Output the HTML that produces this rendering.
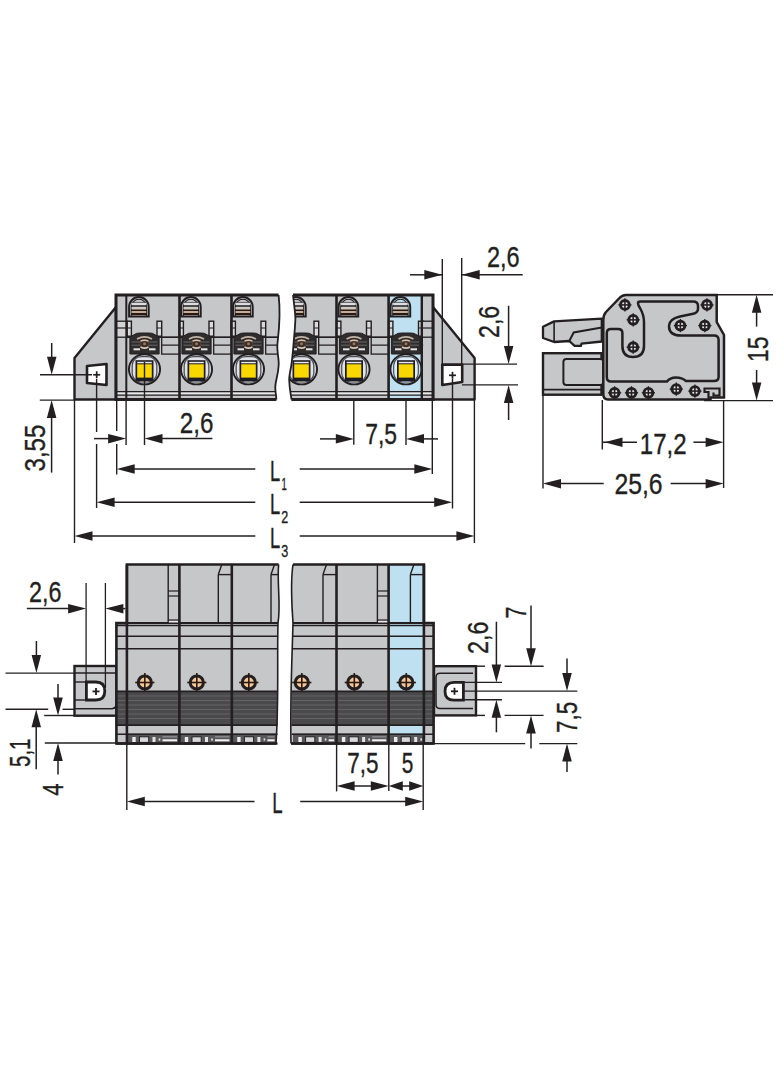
<!DOCTYPE html>
<html><head><meta charset="utf-8"><style>
html,body{margin:0;padding:0;background:#fff;}
svg{display:block;}
text{font-family:"Liberation Sans",sans-serif;fill:#231f20;stroke:#231f20;stroke-width:0.35px;}
</style></head><body>
<svg width="784" height="1066" viewBox="0 0 784 1066">
<rect width="784" height="1066" fill="#fff"/>
<polygon points="116,307 74.5,358 74.5,399.5 116,399.5" fill="#c6c7c9" stroke="#231f20" stroke-width="2.4" stroke-linejoin="round" />
<polygon points="433,307 474.6,358 474.6,399.5 433,399.5" fill="#c6c7c9" stroke="#231f20" stroke-width="2.4" stroke-linejoin="round" />
<polygon points="87,366 106.5,364 106.5,385 87,383" fill="#fff" stroke="#231f20" stroke-width="2.6" stroke-linejoin="round" />
<polygon points="442.3,364.6 462.2,364.6 462.2,382 442.3,385" fill="#fff" stroke="#231f20" stroke-width="2.6" stroke-linejoin="round" />
<defs><clipPath id="cpL"><path d="M116,295 L278.6,295 C281,315 279,330 277.5,343 C276.5,352 279.5,360 278.6,366 C278,376 275,382 275.3,388 C275.5,394 276.4,397 276.4,399.5 L116,399.5 Z"/></clipPath><clipPath id="cpR"><path d="M293,295 C294.5,308 296,318 295.3,321 C294.8,332 294,338 293.6,343 C293,352 292,360 291.4,365 C290,372 289,378 289.2,380 C289.5,386 290,390 290.5,393 C291,396 291.4,398 291.4,399.5 L433,399.5 L433,295 Z"/></clipPath></defs>
<path d="M116,295 L278.6,295 C281,315 279,330 277.5,343 C276.5,352 279.5,360 278.6,366 C278,376 275,382 275.3,388 C275.5,394 276.4,397 276.4,399.5 L116,399.5 Z" fill="#c6c7c9" stroke="#231f20" stroke-width="0" />
<path d="M293,295 C294.5,308 296,318 295.3,321 C294.8,332 294,338 293.6,343 C293,352 292,360 291.4,365 C290,372 289,378 289.2,380 C289.5,386 290,390 290.5,393 C291,396 291.4,398 291.4,399.5 L433,399.5 L433,295 Z" fill="#c6c7c9" stroke="#231f20" stroke-width="0" />
<rect x="388.6" y="295" width="33.2" height="104.5" fill="#bee0f0" stroke="none" stroke-width="0" />
<g clip-path="url(#cpL)">
<rect x="127.0" y="321.2" width="4.4" height="15" fill="#dadadc" stroke="#231f20" stroke-width="1.4" />
<line x1="127.0" y1="328" x2="131.4" y2="328" stroke="#231f20" stroke-width="1.2"/>
<rect x="157.0" y="321.2" width="4.7" height="15" fill="#dadadc" stroke="#231f20" stroke-width="1.4" />
<line x1="157.0" y1="328" x2="161.7" y2="328" stroke="#231f20" stroke-width="1.2"/>
<rect x="161.7" y="337.3" width="17.80000000000001" height="16.8" fill="#c6c7c9" stroke="#231f20" stroke-width="1.3" />
<line x1="161.7" y1="345.1" x2="179.5" y2="345.1" stroke="#231f20" stroke-width="1.2"/>
<path d="M129.1,316.5 L129.1,306.90000000000003 A9.799999999999997,9.799999999999997 0 0 1 148.7,306.90000000000003 L148.7,316.5 Z" fill="#c6c7c9" stroke="#231f20" stroke-width="2" />
<path d="M131.29999999999998,316.5 L131.29999999999998,306.90000000000003 A7.599999999999997,7.599999999999997 0 0 1 146.5,306.90000000000003 L146.5,316.5" fill="none" stroke="#231f20" stroke-width="1.1" />
<rect x="131.6" y="303" width="14.599999999999994" height="2.6" fill="#dcdcde" stroke="none" stroke-width="0" />
<rect x="131.6" y="306.8" width="14.599999999999994" height="3" fill="#cfc9c4" stroke="none" stroke-width="0" />
<rect x="131.6" y="311" width="14.599999999999994" height="2.4" fill="#c4ae9a" stroke="none" stroke-width="0" />
<line x1="131.1" y1="302.4" x2="146.7" y2="302.4" stroke="#555" stroke-width="0.9"/>
<line x1="131.1" y1="306" x2="146.7" y2="306" stroke="#231f20" stroke-width="1.4"/>
<line x1="131.1" y1="310.3" x2="146.7" y2="310.3" stroke="#2a1a10" stroke-width="1.5"/>
<line x1="131.1" y1="314" x2="146.7" y2="314" stroke="#2a1a10" stroke-width="1.8"/>
<line x1="126.3" y1="337.3" x2="179.5" y2="337.3" stroke="#231f20" stroke-width="1.4"/>
<path d="M129.9,354 L129.9,337 L133.5,335 Q136.5,332.6 140.5,333 L148.5,333 Q152.5,332.6 155.5,335 L159.1,337 L159.1,354 Z" fill="#2e2c2c" stroke="#231f20" stroke-width="1" />
<rect x="133.5" y="348.3" width="6.5" height="2" fill="#e4e4e4" stroke="none" stroke-width="0" />
<rect x="149.0" y="348.3" width="6.5" height="2" fill="#e4e4e4" stroke="none" stroke-width="0" />
<line x1="131.5" y1="342" x2="157.5" y2="342" stroke="#707072" stroke-width="0.9"/>
<line x1="131.5" y1="345.2" x2="157.5" y2="345.2" stroke="#707072" stroke-width="0.9"/>
<circle cx="144.5" cy="343.7" r="4.2" fill="#3a2e28" stroke="#5a4030" stroke-width="1.2"/>
<path d="M137.0,339 Q144.5,334.8 152.0,339" fill="none" stroke="#c4b4a4" stroke-width="1.6" />
<path d="M140.5,341.2 Q144.5,339.2 148.5,341.2" fill="none" stroke="#d4c4b4" stroke-width="1.4" />
<path d="M140.5,347 Q144.5,349.3 148.5,347" fill="none" stroke="#d4c4b4" stroke-width="1.6" />
<circle cx="144.5" cy="343.8" r="1.5" fill="#9a7458"/>
<ellipse cx="144.5" cy="369.3" rx="15.6" ry="15.1" fill="#cfd0d4" stroke="#231f20" stroke-width="1.9"/>
<rect x="132.2" y="356.6" width="24.6" height="25.4" rx="9" fill="#e0e2e8" stroke="#4a4d55" stroke-width="1.2"/>
<rect x="135.5" y="360.2" width="18" height="21" fill="#1e1c22" stroke="none" stroke-width="0" />
<rect x="137.2" y="364.3" width="14.6" height="13.3" fill="#f8d800" stroke="none" stroke-width="0" />
<rect x="137.2" y="361.8" width="14.6" height="1.5" fill="#e8e8e8" stroke="none" stroke-width="0" />
<rect x="179.0" y="321.2" width="4.4" height="15" fill="#dadadc" stroke="#231f20" stroke-width="1.4" />
<line x1="179.0" y1="328" x2="183.4" y2="328" stroke="#231f20" stroke-width="1.2"/>
<rect x="209.0" y="321.2" width="4.7" height="15" fill="#dadadc" stroke="#231f20" stroke-width="1.4" />
<line x1="209.0" y1="328" x2="213.7" y2="328" stroke="#231f20" stroke-width="1.2"/>
<rect x="213.7" y="337.3" width="17.80000000000001" height="16.8" fill="#c6c7c9" stroke="#231f20" stroke-width="1.3" />
<line x1="213.7" y1="345.1" x2="231.5" y2="345.1" stroke="#231f20" stroke-width="1.2"/>
<path d="M181.1,316.5 L181.1,306.90000000000003 A9.799999999999997,9.799999999999997 0 0 1 200.7,306.90000000000003 L200.7,316.5 Z" fill="#c6c7c9" stroke="#231f20" stroke-width="2" />
<path d="M183.29999999999998,316.5 L183.29999999999998,306.90000000000003 A7.599999999999997,7.599999999999997 0 0 1 198.5,306.90000000000003 L198.5,316.5" fill="none" stroke="#231f20" stroke-width="1.1" />
<rect x="183.6" y="303" width="14.599999999999994" height="2.6" fill="#dcdcde" stroke="none" stroke-width="0" />
<rect x="183.6" y="306.8" width="14.599999999999994" height="3" fill="#cfc9c4" stroke="none" stroke-width="0" />
<rect x="183.6" y="311" width="14.599999999999994" height="2.4" fill="#c4ae9a" stroke="none" stroke-width="0" />
<line x1="183.1" y1="302.4" x2="198.7" y2="302.4" stroke="#555" stroke-width="0.9"/>
<line x1="183.1" y1="306" x2="198.7" y2="306" stroke="#231f20" stroke-width="1.4"/>
<line x1="183.1" y1="310.3" x2="198.7" y2="310.3" stroke="#2a1a10" stroke-width="1.5"/>
<line x1="183.1" y1="314" x2="198.7" y2="314" stroke="#2a1a10" stroke-width="1.8"/>
<line x1="179.5" y1="337.3" x2="231.5" y2="337.3" stroke="#231f20" stroke-width="1.4"/>
<path d="M181.9,354 L181.9,337 L185.5,335 Q188.5,332.6 192.5,333 L200.5,333 Q204.5,332.6 207.5,335 L211.1,337 L211.1,354 Z" fill="#2e2c2c" stroke="#231f20" stroke-width="1" />
<rect x="185.5" y="348.3" width="6.5" height="2" fill="#e4e4e4" stroke="none" stroke-width="0" />
<rect x="201.0" y="348.3" width="6.5" height="2" fill="#e4e4e4" stroke="none" stroke-width="0" />
<line x1="183.5" y1="342" x2="209.5" y2="342" stroke="#707072" stroke-width="0.9"/>
<line x1="183.5" y1="345.2" x2="209.5" y2="345.2" stroke="#707072" stroke-width="0.9"/>
<circle cx="196.5" cy="343.7" r="4.2" fill="#3a2e28" stroke="#5a4030" stroke-width="1.2"/>
<path d="M189.0,339 Q196.5,334.8 204.0,339" fill="none" stroke="#c4b4a4" stroke-width="1.6" />
<path d="M192.5,341.2 Q196.5,339.2 200.5,341.2" fill="none" stroke="#d4c4b4" stroke-width="1.4" />
<path d="M192.5,347 Q196.5,349.3 200.5,347" fill="none" stroke="#d4c4b4" stroke-width="1.6" />
<circle cx="196.5" cy="343.8" r="1.5" fill="#9a7458"/>
<ellipse cx="196.5" cy="369.3" rx="15.6" ry="15.1" fill="#cfd0d4" stroke="#231f20" stroke-width="1.9"/>
<rect x="184.2" y="356.6" width="24.6" height="25.4" rx="9" fill="#e0e2e8" stroke="#4a4d55" stroke-width="1.2"/>
<rect x="187.5" y="360.2" width="18" height="21" fill="#1e1c22" stroke="none" stroke-width="0" />
<rect x="189.2" y="364.3" width="14.6" height="13.3" fill="#f8d800" stroke="none" stroke-width="0" />
<rect x="189.2" y="361.8" width="14.6" height="1.5" fill="#e8e8e8" stroke="none" stroke-width="0" />
<rect x="231.0" y="321.2" width="4.4" height="15" fill="#dadadc" stroke="#231f20" stroke-width="1.4" />
<line x1="231.0" y1="328" x2="235.4" y2="328" stroke="#231f20" stroke-width="1.2"/>
<rect x="261.0" y="321.2" width="4.7" height="15" fill="#dadadc" stroke="#231f20" stroke-width="1.4" />
<line x1="261.0" y1="328" x2="265.7" y2="328" stroke="#231f20" stroke-width="1.2"/>
<rect x="265.7" y="337.3" width="13.300000000000011" height="16.8" fill="#c6c7c9" stroke="#231f20" stroke-width="1.3" />
<line x1="265.7" y1="345.1" x2="279" y2="345.1" stroke="#231f20" stroke-width="1.2"/>
<path d="M233.1,316.5 L233.1,306.90000000000003 A9.799999999999997,9.799999999999997 0 0 1 252.7,306.90000000000003 L252.7,316.5 Z" fill="#c6c7c9" stroke="#231f20" stroke-width="2" />
<path d="M235.29999999999998,316.5 L235.29999999999998,306.90000000000003 A7.599999999999997,7.599999999999997 0 0 1 250.5,306.90000000000003 L250.5,316.5" fill="none" stroke="#231f20" stroke-width="1.1" />
<rect x="235.6" y="303" width="14.599999999999994" height="2.6" fill="#dcdcde" stroke="none" stroke-width="0" />
<rect x="235.6" y="306.8" width="14.599999999999994" height="3" fill="#cfc9c4" stroke="none" stroke-width="0" />
<rect x="235.6" y="311" width="14.599999999999994" height="2.4" fill="#c4ae9a" stroke="none" stroke-width="0" />
<line x1="235.1" y1="302.4" x2="250.7" y2="302.4" stroke="#555" stroke-width="0.9"/>
<line x1="235.1" y1="306" x2="250.7" y2="306" stroke="#231f20" stroke-width="1.4"/>
<line x1="235.1" y1="310.3" x2="250.7" y2="310.3" stroke="#2a1a10" stroke-width="1.5"/>
<line x1="235.1" y1="314" x2="250.7" y2="314" stroke="#2a1a10" stroke-width="1.8"/>
<line x1="231.5" y1="337.3" x2="279" y2="337.3" stroke="#231f20" stroke-width="1.4"/>
<path d="M233.9,354 L233.9,337 L237.5,335 Q240.5,332.6 244.5,333 L252.5,333 Q256.5,332.6 259.5,335 L263.1,337 L263.1,354 Z" fill="#2e2c2c" stroke="#231f20" stroke-width="1" />
<rect x="237.5" y="348.3" width="6.5" height="2" fill="#e4e4e4" stroke="none" stroke-width="0" />
<rect x="253.0" y="348.3" width="6.5" height="2" fill="#e4e4e4" stroke="none" stroke-width="0" />
<line x1="235.5" y1="342" x2="261.5" y2="342" stroke="#707072" stroke-width="0.9"/>
<line x1="235.5" y1="345.2" x2="261.5" y2="345.2" stroke="#707072" stroke-width="0.9"/>
<circle cx="248.5" cy="343.7" r="4.2" fill="#3a2e28" stroke="#5a4030" stroke-width="1.2"/>
<path d="M241.0,339 Q248.5,334.8 256.0,339" fill="none" stroke="#c4b4a4" stroke-width="1.6" />
<path d="M244.5,341.2 Q248.5,339.2 252.5,341.2" fill="none" stroke="#d4c4b4" stroke-width="1.4" />
<path d="M244.5,347 Q248.5,349.3 252.5,347" fill="none" stroke="#d4c4b4" stroke-width="1.6" />
<circle cx="248.5" cy="343.8" r="1.5" fill="#9a7458"/>
<ellipse cx="248.5" cy="369.3" rx="15.6" ry="15.1" fill="#cfd0d4" stroke="#231f20" stroke-width="1.9"/>
<rect x="236.2" y="356.6" width="24.6" height="25.4" rx="9" fill="#e0e2e8" stroke="#4a4d55" stroke-width="1.2"/>
<rect x="239.5" y="360.2" width="18" height="21" fill="#1e1c22" stroke="none" stroke-width="0" />
<rect x="241.2" y="364.3" width="14.6" height="13.3" fill="#f8d800" stroke="none" stroke-width="0" />
<rect x="241.2" y="361.8" width="14.6" height="1.5" fill="#e8e8e8" stroke="none" stroke-width="0" />
</g><g clip-path="url(#cpR)">
<rect x="284.0" y="321.2" width="4.4" height="15" fill="#dadadc" stroke="#231f20" stroke-width="1.4" />
<line x1="284.0" y1="328" x2="288.4" y2="328" stroke="#231f20" stroke-width="1.2"/>
<rect x="314.0" y="321.2" width="4.7" height="15" fill="#dadadc" stroke="#231f20" stroke-width="1.4" />
<line x1="314.0" y1="328" x2="318.7" y2="328" stroke="#231f20" stroke-width="1.2"/>
<rect x="318.7" y="337.3" width="17.80000000000001" height="16.8" fill="#c6c7c9" stroke="#231f20" stroke-width="1.3" />
<line x1="318.7" y1="345.1" x2="336.5" y2="345.1" stroke="#231f20" stroke-width="1.2"/>
<path d="M286.1,316.5 L286.1,306.9 A9.799999999999983,9.799999999999983 0 0 1 305.7,306.9 L305.7,316.5 Z" fill="#c6c7c9" stroke="#231f20" stroke-width="2" />
<path d="M288.3,316.5 L288.3,306.9 A7.599999999999983,7.599999999999983 0 0 1 303.5,306.9 L303.5,316.5" fill="none" stroke="#231f20" stroke-width="1.1" />
<rect x="288.6" y="303" width="14.599999999999966" height="2.6" fill="#dcdcde" stroke="none" stroke-width="0" />
<rect x="288.6" y="306.8" width="14.599999999999966" height="3" fill="#cfc9c4" stroke="none" stroke-width="0" />
<rect x="288.6" y="311" width="14.599999999999966" height="2.4" fill="#c4ae9a" stroke="none" stroke-width="0" />
<line x1="288.1" y1="302.4" x2="303.7" y2="302.4" stroke="#555" stroke-width="0.9"/>
<line x1="288.1" y1="306" x2="303.7" y2="306" stroke="#231f20" stroke-width="1.4"/>
<line x1="288.1" y1="310.3" x2="303.7" y2="310.3" stroke="#2a1a10" stroke-width="1.5"/>
<line x1="288.1" y1="314" x2="303.7" y2="314" stroke="#2a1a10" stroke-width="1.8"/>
<line x1="284.5" y1="337.3" x2="336.5" y2="337.3" stroke="#231f20" stroke-width="1.4"/>
<path d="M286.9,354 L286.9,337 L290.5,335 Q293.5,332.6 297.5,333 L305.5,333 Q309.5,332.6 312.5,335 L316.1,337 L316.1,354 Z" fill="#2e2c2c" stroke="#231f20" stroke-width="1" />
<rect x="290.5" y="348.3" width="6.5" height="2" fill="#e4e4e4" stroke="none" stroke-width="0" />
<rect x="306.0" y="348.3" width="6.5" height="2" fill="#e4e4e4" stroke="none" stroke-width="0" />
<line x1="288.5" y1="342" x2="314.5" y2="342" stroke="#707072" stroke-width="0.9"/>
<line x1="288.5" y1="345.2" x2="314.5" y2="345.2" stroke="#707072" stroke-width="0.9"/>
<circle cx="301.5" cy="343.7" r="4.2" fill="#3a2e28" stroke="#5a4030" stroke-width="1.2"/>
<path d="M294.0,339 Q301.5,334.8 309.0,339" fill="none" stroke="#c4b4a4" stroke-width="1.6" />
<path d="M297.5,341.2 Q301.5,339.2 305.5,341.2" fill="none" stroke="#d4c4b4" stroke-width="1.4" />
<path d="M297.5,347 Q301.5,349.3 305.5,347" fill="none" stroke="#d4c4b4" stroke-width="1.6" />
<circle cx="301.5" cy="343.8" r="1.5" fill="#9a7458"/>
<ellipse cx="301.5" cy="369.3" rx="15.6" ry="15.1" fill="#cfd0d4" stroke="#231f20" stroke-width="1.9"/>
<rect x="289.2" y="356.6" width="24.6" height="25.4" rx="9" fill="#e0e2e8" stroke="#4a4d55" stroke-width="1.2"/>
<rect x="292.5" y="360.2" width="18" height="21" fill="#1e1c22" stroke="none" stroke-width="0" />
<rect x="294.2" y="364.3" width="14.6" height="13.3" fill="#f8d800" stroke="none" stroke-width="0" />
<rect x="294.2" y="361.8" width="14.6" height="1.5" fill="#e8e8e8" stroke="none" stroke-width="0" />
<rect x="336.5" y="321.2" width="4.4" height="15" fill="#dadadc" stroke="#231f20" stroke-width="1.4" />
<line x1="336.5" y1="328" x2="340.9" y2="328" stroke="#231f20" stroke-width="1.2"/>
<rect x="366.5" y="321.2" width="4.7" height="15" fill="#dadadc" stroke="#231f20" stroke-width="1.4" />
<line x1="366.5" y1="328" x2="371.2" y2="328" stroke="#231f20" stroke-width="1.2"/>
<rect x="371.2" y="337.3" width="17.400000000000034" height="16.8" fill="#c6c7c9" stroke="#231f20" stroke-width="1.3" />
<line x1="371.2" y1="345.1" x2="388.6" y2="345.1" stroke="#231f20" stroke-width="1.2"/>
<path d="M338.6,316.5 L338.6,306.9 A9.799999999999983,9.799999999999983 0 0 1 358.2,306.9 L358.2,316.5 Z" fill="#c6c7c9" stroke="#231f20" stroke-width="2" />
<path d="M340.8,316.5 L340.8,306.9 A7.599999999999983,7.599999999999983 0 0 1 356.0,306.9 L356.0,316.5" fill="none" stroke="#231f20" stroke-width="1.1" />
<rect x="341.1" y="303" width="14.599999999999966" height="2.6" fill="#dcdcde" stroke="none" stroke-width="0" />
<rect x="341.1" y="306.8" width="14.599999999999966" height="3" fill="#cfc9c4" stroke="none" stroke-width="0" />
<rect x="341.1" y="311" width="14.599999999999966" height="2.4" fill="#c4ae9a" stroke="none" stroke-width="0" />
<line x1="340.6" y1="302.4" x2="356.2" y2="302.4" stroke="#555" stroke-width="0.9"/>
<line x1="340.6" y1="306" x2="356.2" y2="306" stroke="#231f20" stroke-width="1.4"/>
<line x1="340.6" y1="310.3" x2="356.2" y2="310.3" stroke="#2a1a10" stroke-width="1.5"/>
<line x1="340.6" y1="314" x2="356.2" y2="314" stroke="#2a1a10" stroke-width="1.8"/>
<line x1="336.5" y1="337.3" x2="388.6" y2="337.3" stroke="#231f20" stroke-width="1.4"/>
<path d="M339.4,354 L339.4,337 L343,335 Q346,332.6 350,333 L358,333 Q362,332.6 365,335 L368.6,337 L368.6,354 Z" fill="#2e2c2c" stroke="#231f20" stroke-width="1" />
<rect x="343" y="348.3" width="6.5" height="2" fill="#e4e4e4" stroke="none" stroke-width="0" />
<rect x="358.5" y="348.3" width="6.5" height="2" fill="#e4e4e4" stroke="none" stroke-width="0" />
<line x1="341" y1="342" x2="367" y2="342" stroke="#707072" stroke-width="0.9"/>
<line x1="341" y1="345.2" x2="367" y2="345.2" stroke="#707072" stroke-width="0.9"/>
<circle cx="354" cy="343.7" r="4.2" fill="#3a2e28" stroke="#5a4030" stroke-width="1.2"/>
<path d="M346.5,339 Q354,334.8 361.5,339" fill="none" stroke="#c4b4a4" stroke-width="1.6" />
<path d="M350,341.2 Q354,339.2 358,341.2" fill="none" stroke="#d4c4b4" stroke-width="1.4" />
<path d="M350,347 Q354,349.3 358,347" fill="none" stroke="#d4c4b4" stroke-width="1.6" />
<circle cx="354" cy="343.8" r="1.5" fill="#9a7458"/>
<ellipse cx="354" cy="369.3" rx="15.6" ry="15.1" fill="#cfd0d4" stroke="#231f20" stroke-width="1.9"/>
<rect x="341.7" y="356.6" width="24.6" height="25.4" rx="9" fill="#e0e2e8" stroke="#4a4d55" stroke-width="1.2"/>
<rect x="345" y="360.2" width="18" height="21" fill="#1e1c22" stroke="none" stroke-width="0" />
<rect x="346.7" y="364.3" width="14.6" height="13.3" fill="#f8d800" stroke="none" stroke-width="0" />
<rect x="346.7" y="361.8" width="14.6" height="1.5" fill="#e8e8e8" stroke="none" stroke-width="0" />
<rect x="388.5" y="321.2" width="4.4" height="15" fill="#dadadc" stroke="#231f20" stroke-width="1.4" />
<line x1="388.5" y1="328" x2="392.9" y2="328" stroke="#231f20" stroke-width="1.2"/>
<rect x="418.5" y="321.2" width="4.7" height="15" fill="#dadadc" stroke="#231f20" stroke-width="1.4" />
<line x1="418.5" y1="328" x2="423.2" y2="328" stroke="#231f20" stroke-width="1.2"/>
<rect x="423.2" y="337.3" width="-1.3999999999999773" height="16.8" fill="#bee0f0" stroke="#231f20" stroke-width="1.3" />
<line x1="423.2" y1="345.1" x2="421.8" y2="345.1" stroke="#231f20" stroke-width="1.2"/>
<path d="M390.6,316.5 L390.6,306.9 A9.799999999999983,9.799999999999983 0 0 1 410.2,306.9 L410.2,316.5 Z" fill="#bee0f0" stroke="#231f20" stroke-width="2" />
<path d="M392.8,316.5 L392.8,306.9 A7.599999999999983,7.599999999999983 0 0 1 408.0,306.9 L408.0,316.5" fill="none" stroke="#231f20" stroke-width="1.1" />
<rect x="393.1" y="303" width="14.599999999999966" height="2.6" fill="#dcdcde" stroke="none" stroke-width="0" />
<rect x="393.1" y="306.8" width="14.599999999999966" height="3" fill="#cfc9c4" stroke="none" stroke-width="0" />
<rect x="393.1" y="311" width="14.599999999999966" height="2.4" fill="#c4ae9a" stroke="none" stroke-width="0" />
<line x1="392.6" y1="302.4" x2="408.2" y2="302.4" stroke="#555" stroke-width="0.9"/>
<line x1="392.6" y1="306" x2="408.2" y2="306" stroke="#231f20" stroke-width="1.4"/>
<line x1="392.6" y1="310.3" x2="408.2" y2="310.3" stroke="#2a1a10" stroke-width="1.5"/>
<line x1="392.6" y1="314" x2="408.2" y2="314" stroke="#2a1a10" stroke-width="1.8"/>
<line x1="388.6" y1="337.3" x2="421.8" y2="337.3" stroke="#231f20" stroke-width="1.4"/>
<path d="M391.4,354 L391.4,337 L395,335 Q398,332.6 402,333 L410,333 Q414,332.6 417,335 L420.6,337 L420.6,354 Z" fill="#2e2c2c" stroke="#231f20" stroke-width="1" />
<rect x="395" y="348.3" width="6.5" height="2" fill="#e4e4e4" stroke="none" stroke-width="0" />
<rect x="410.5" y="348.3" width="6.5" height="2" fill="#e4e4e4" stroke="none" stroke-width="0" />
<line x1="393" y1="342" x2="419" y2="342" stroke="#707072" stroke-width="0.9"/>
<line x1="393" y1="345.2" x2="419" y2="345.2" stroke="#707072" stroke-width="0.9"/>
<circle cx="406" cy="343.7" r="4.2" fill="#3a2e28" stroke="#5a4030" stroke-width="1.2"/>
<path d="M398.5,339 Q406,334.8 413.5,339" fill="none" stroke="#c4b4a4" stroke-width="1.6" />
<path d="M402,341.2 Q406,339.2 410,341.2" fill="none" stroke="#d4c4b4" stroke-width="1.4" />
<path d="M402,347 Q406,349.3 410,347" fill="none" stroke="#d4c4b4" stroke-width="1.6" />
<circle cx="406" cy="343.8" r="1.5" fill="#9a7458"/>
<ellipse cx="406" cy="369.3" rx="15.6" ry="15.1" fill="#c9e2f0" stroke="#231f20" stroke-width="1.9"/>
<rect x="393.7" y="356.6" width="24.6" height="25.4" rx="9" fill="#ddeef8" stroke="#4a4d55" stroke-width="1.2"/>
<rect x="397" y="360.2" width="18" height="21" fill="#1e1c22" stroke="none" stroke-width="0" />
<rect x="398.7" y="364.3" width="14.6" height="13.3" fill="#f8d800" stroke="none" stroke-width="0" />
<rect x="398.7" y="361.8" width="14.6" height="1.5" fill="#e8e8e8" stroke="none" stroke-width="0" />
</g>
<g clip-path="url(#cpL)">
<rect x="116" y="392.3" width="164" height="2.3" fill="#eaeaea" stroke="none" stroke-width="0" />
<line x1="116" y1="391.6" x2="281" y2="391.6" stroke="#231f20" stroke-width="1.3"/>
<line x1="116" y1="395.2" x2="281" y2="395.2" stroke="#231f20" stroke-width="1.3"/>
</g><g clip-path="url(#cpR)">
<rect x="288" y="392.3" width="145" height="2.3" fill="#eaeaea" stroke="none" stroke-width="0" />
<line x1="288" y1="391.6" x2="433" y2="391.6" stroke="#231f20" stroke-width="1.3"/>
<line x1="288" y1="395.2" x2="433" y2="395.2" stroke="#231f20" stroke-width="1.3"/>
</g>
<rect x="116" y="321.2" width="11" height="16" fill="#d4d4d6" stroke="#231f20" stroke-width="1.3" />
<line x1="116" y1="328" x2="127" y2="328" stroke="#231f20" stroke-width="1.2"/>
<rect x="421.8" y="321.2" width="11.2" height="16" fill="#c6c7c9" stroke="#231f20" stroke-width="1.3" />
<line x1="421.8" y1="328" x2="433" y2="328" stroke="#231f20" stroke-width="1.2"/>
<line x1="126.3" y1="295" x2="126.3" y2="399.5" stroke="#231f20" stroke-width="2"/>
<line x1="179.5" y1="295" x2="179.5" y2="399.5" stroke="#231f20" stroke-width="2.6"/>
<line x1="231.5" y1="295" x2="231.5" y2="399.5" stroke="#231f20" stroke-width="2.6"/>
<line x1="336.5" y1="295" x2="336.5" y2="399.5" stroke="#231f20" stroke-width="2.6"/>
<line x1="388.6" y1="295" x2="388.6" y2="399.5" stroke="#231f20" stroke-width="2.6"/>
<line x1="421.8" y1="295" x2="421.8" y2="399.5" stroke="#231f20" stroke-width="2.4"/>
<path d="M278.6,295 L116,295 L116,399.5 L276.4,399.5" fill="none" stroke="#231f20" stroke-width="3" />
<path d="M278.6,295 C281,315 279,330 277.5,343 C276.5,352 279.5,360 278.6,366 C278,376 275,382 275.3,388 C275.5,394 276.4,397 276.4,399.5" fill="none" stroke="#231f20" stroke-width="1.8" />
<path d="M291.4,399.5 L433,399.5 L433,295 L293,295" fill="none" stroke="#231f20" stroke-width="3" />
<path d="M293,295 C294.5,308 296,318 295.3,321 C294.8,332 294,338 293.6,343 C293,352 292,360 291.4,365 C290,372 289,378 289.2,380 C289.5,386 290,390 290.5,393 C291,396 291.4,398 291.4,399.5" fill="none" stroke="#231f20" stroke-width="1.8" />
<line x1="93.2" y1="374.8" x2="100.2" y2="374.8" stroke="#231f20" stroke-width="1.7"/>
<line x1="96.7" y1="371.3" x2="96.7" y2="378.3" stroke="#231f20" stroke-width="1.7"/>
<line x1="449" y1="375.3" x2="456" y2="375.3" stroke="#231f20" stroke-width="1.7"/>
<line x1="452.5" y1="371.8" x2="452.5" y2="378.8" stroke="#231f20" stroke-width="1.7"/>
<line x1="442.3" y1="259" x2="442.3" y2="364" stroke="#231f20" stroke-width="1.4"/>
<line x1="461.7" y1="258" x2="461.7" y2="364" stroke="#231f20" stroke-width="1.4"/>
<line x1="410" y1="274.8" x2="442" y2="274.8" stroke="#231f20" stroke-width="1.5"/>
<polygon points="442.3,274.8 424.3,270.1 424.3,279.6" fill="#231f20"/>
<line x1="462" y1="274.8" x2="522.7" y2="274.8" stroke="#231f20" stroke-width="1.5"/>
<polygon points="461.7,274.8 479.7,270.1 479.7,279.6" fill="#231f20"/>
<text x="487" y="267.4" font-size="29.5" textLength="32.700000000000045" lengthAdjust="spacingAndGlyphs">2,6</text>
<line x1="462" y1="364.1" x2="517" y2="364.1" stroke="#231f20" stroke-width="1.4"/>
<line x1="462" y1="384.9" x2="518" y2="384.9" stroke="#231f20" stroke-width="1.4"/>
<line x1="508.6" y1="305.8" x2="508.6" y2="350" stroke="#231f20" stroke-width="1.5"/>
<polygon points="508.6,364.1 503.9,346.1 513.4,346.1" fill="#231f20"/>
<line x1="508.6" y1="395" x2="508.6" y2="420" stroke="#231f20" stroke-width="1.5"/>
<polygon points="508.6,384.9 503.9,402.9 513.4,402.9" fill="#231f20"/>
<text transform="translate(499.3,338) rotate(-90)" x="0" y="0" font-size="29.5" textLength="32.19999999999999" lengthAdjust="spacingAndGlyphs">2,6</text>
<line x1="51.7" y1="343" x2="51.7" y2="360" stroke="#231f20" stroke-width="1.5"/>
<polygon points="51.7,374.8 47.0,356.8 56.5,356.8" fill="#231f20"/>
<line x1="40" y1="374.8" x2="92" y2="374.8" stroke="#231f20" stroke-width="1.4"/>
<line x1="39.8" y1="400.1" x2="74.5" y2="400.1" stroke="#231f20" stroke-width="1.4"/>
<line x1="51.6" y1="410" x2="51.6" y2="472.6" stroke="#231f20" stroke-width="1.5"/>
<polygon points="51.6,400.1 46.9,418.1 56.4,418.1" fill="#231f20"/>
<text transform="translate(45.3,471.5) rotate(-90)" x="0" y="0" font-size="29.5" textLength="46.89999999999998" lengthAdjust="spacingAndGlyphs">3,55</text>
<line x1="74.5" y1="400" x2="74.5" y2="543" stroke="#231f20" stroke-width="1.4"/>
<line x1="96.6" y1="379" x2="96.6" y2="432" stroke="#231f20" stroke-width="1.4"/>
<line x1="96.6" y1="444" x2="96.6" y2="508" stroke="#231f20" stroke-width="1.4"/>
<line x1="116.7" y1="400" x2="116.7" y2="431" stroke="#231f20" stroke-width="1.4"/>
<line x1="116.7" y1="444" x2="116.7" y2="474.6" stroke="#231f20" stroke-width="1.4"/>
<line x1="126.1" y1="400" x2="126.1" y2="445" stroke="#231f20" stroke-width="1.4"/>
<line x1="144.5" y1="362" x2="144.5" y2="445" stroke="#231f20" stroke-width="1.4"/>
<line x1="353.8" y1="400" x2="353.8" y2="444.7" stroke="#231f20" stroke-width="1.4"/>
<line x1="406" y1="400" x2="406" y2="445" stroke="#231f20" stroke-width="1.4"/>
<line x1="432.3" y1="400" x2="432.3" y2="474" stroke="#231f20" stroke-width="1.4"/>
<line x1="452.5" y1="379" x2="452.5" y2="508.5" stroke="#231f20" stroke-width="1.4"/>
<line x1="474.4" y1="400" x2="474.4" y2="543" stroke="#231f20" stroke-width="1.4"/>
<line x1="94" y1="438.6" x2="110" y2="438.6" stroke="#231f20" stroke-width="1.5"/>
<polygon points="126.1,438.6 108.1,433.9 108.1,443.4" fill="#231f20"/>
<line x1="150" y1="438.6" x2="212.4" y2="438.6" stroke="#231f20" stroke-width="1.5"/>
<polygon points="144.5,438.6 162.5,433.9 162.5,443.4" fill="#231f20"/>
<text x="179.8" y="432.7" font-size="29.5" textLength="33.69999999999999" lengthAdjust="spacingAndGlyphs">2,6</text>
<line x1="320" y1="438.9" x2="340" y2="438.9" stroke="#231f20" stroke-width="1.5"/>
<polygon points="353.8,438.9 335.8,434.1 335.8,443.6" fill="#231f20"/>
<line x1="420" y1="438.9" x2="438" y2="438.9" stroke="#231f20" stroke-width="1.5"/>
<polygon points="406.0,438.9 424.0,434.1 424.0,443.6" fill="#231f20"/>
<text x="365.3" y="443.5" font-size="29.5" textLength="31.80000000000001" lengthAdjust="spacingAndGlyphs">7,5</text>
<line x1="121.7" y1="469" x2="255.3" y2="469" stroke="#231f20" stroke-width="1.5"/>
<polygon points="116.7,469.0 134.7,464.2 134.7,473.8" fill="#231f20"/>
<line x1="299.7" y1="469" x2="427.3" y2="469" stroke="#231f20" stroke-width="1.5"/>
<polygon points="432.3,469.0 414.3,464.2 414.3,473.8" fill="#231f20"/>
<text x="270.1" y="480.5" font-size="29.5" textLength="10.199999999999989" lengthAdjust="spacingAndGlyphs">L</text>
<text x="281.5" y="489.9" font-size="17" textLength="5.300000000000011" lengthAdjust="spacingAndGlyphs">1</text>
<line x1="101.6" y1="502.2" x2="255.3" y2="502.2" stroke="#231f20" stroke-width="1.5"/>
<polygon points="96.6,502.2 114.6,497.4 114.6,506.9" fill="#231f20"/>
<line x1="299.7" y1="502.2" x2="447.2" y2="502.2" stroke="#231f20" stroke-width="1.5"/>
<polygon points="452.2,502.2 434.2,497.4 434.2,506.9" fill="#231f20"/>
<text x="270.1" y="514" font-size="29.5" textLength="10.199999999999989" lengthAdjust="spacingAndGlyphs">L</text>
<text x="281.2" y="523.4" font-size="17" textLength="7.0" lengthAdjust="spacingAndGlyphs">2</text>
<line x1="79.5" y1="536" x2="255.3" y2="536" stroke="#231f20" stroke-width="1.5"/>
<polygon points="74.5,536.0 92.5,531.2 92.5,540.8" fill="#231f20"/>
<line x1="299.7" y1="536" x2="469.4" y2="536" stroke="#231f20" stroke-width="1.5"/>
<polygon points="474.4,536.0 456.4,531.2 456.4,540.8" fill="#231f20"/>
<text x="270.1" y="548" font-size="29.5" textLength="10.199999999999989" lengthAdjust="spacingAndGlyphs">L</text>
<text x="281.2" y="557.4" font-size="17" textLength="7.0" lengthAdjust="spacingAndGlyphs">3</text>
<path d="M554.1,321.4 L601.8,318.7 L601.8,341.5 L581.5,343.7 L580.9,345.9 L574.6,345.9 L569.3,341 L554.1,342 L543,338 L543,326.7 Z" fill="#c6c7c9" stroke="#231f20" stroke-width="2.3" stroke-linejoin="round"/>
<line x1="554.1" y1="321.4" x2="554.1" y2="342" stroke="#231f20" stroke-width="1.6"/>
<path d="M569.3,341 L573.7,332.5 L601.8,327.6" fill="none" stroke="#231f20" stroke-width="2" />
<rect x="543" y="353.2" width="58.5" height="41.5" fill="#c6c7c9" stroke="#231f20" stroke-width="2.4" />
<rect x="563.4" y="359" width="40" height="26" rx="3" fill="#c6c7c9" stroke="#231f20" stroke-width="2"/>
<line x1="543" y1="389.6" x2="601.5" y2="389.6" stroke="#231f20" stroke-width="1.6"/>
<path d="M626,295 L716.7,295 L716.7,322 L724,335 L724,397.5 L710.5,397.5 L710.5,399.5 L608,399.5 Q603.3,399.5 603.3,394 L603.3,320 Q603.3,315 606,312 L619,298.5 Q622,295 626,295 Z" fill="#c6c7c9" stroke="#231f20" stroke-width="2.5" />
<path d="M640,301.6 L693,301.6 Q698,301.6 698,306 L698,309 Q698,313 692,314 L680,316.5 Q669,319 669,326 Q669,335.6 681,335.6 L714,335.6 Q718.6,335.6 718.6,340 L718.6,377 Q718.6,381 714,381 L686,381 Q682,377.5 676,377.5 Q670,377.5 667,381.5 L611,381.5 Q606.8,381.5 606.8,377 L606.8,333 Q606.8,329 611,329 L618,329 Q622.4,329 622.4,333 L622.4,346 Q622.4,357 633,357 Q644,357 644,346 L644,322 Q644,315 640,308 Q636,301.6 640,301.6 Z" fill="#c6c7c9" stroke="#231f20" stroke-width="2.5" />
<path d="M708.5,399.5 L708.5,392 L704.5,392 L704.5,388.5 L719.5,388.5 L719.5,395.5 L713.5,395.5 L713.5,392.5" fill="none" stroke="#231f20" stroke-width="2.2" />
<circle cx="624.9" cy="304.9" r="4.5" fill="#7a7a7c" stroke="#231f20" stroke-width="2.8"/>
<circle cx="623.3" cy="303.29999999999995" r="0.9" fill="#e8e8e8"/>
<circle cx="626.5" cy="303.29999999999995" r="0.9" fill="#e8e8e8"/>
<circle cx="623.3" cy="306.5" r="0.9" fill="#e8e8e8"/>
<circle cx="626.5" cy="306.5" r="0.9" fill="#e8e8e8"/>
<line x1="618.3" y1="304.9" x2="631.5" y2="304.9" stroke="#231f20" stroke-width="1.3"/>
<line x1="624.9" y1="298.29999999999995" x2="624.9" y2="311.5" stroke="#231f20" stroke-width="1.3"/>
<circle cx="633.2" cy="319.8" r="4.5" fill="#7a7a7c" stroke="#231f20" stroke-width="2.8"/>
<circle cx="631.6" cy="318.2" r="0.9" fill="#e8e8e8"/>
<circle cx="634.8000000000001" cy="318.2" r="0.9" fill="#e8e8e8"/>
<circle cx="631.6" cy="321.40000000000003" r="0.9" fill="#e8e8e8"/>
<circle cx="634.8000000000001" cy="321.40000000000003" r="0.9" fill="#e8e8e8"/>
<line x1="626.6" y1="319.8" x2="639.8000000000001" y2="319.8" stroke="#231f20" stroke-width="1.3"/>
<line x1="633.2" y1="313.2" x2="633.2" y2="326.40000000000003" stroke="#231f20" stroke-width="1.3"/>
<circle cx="633.2" cy="347.2" r="4.5" fill="#7a7a7c" stroke="#231f20" stroke-width="2.8"/>
<circle cx="631.6" cy="345.59999999999997" r="0.9" fill="#e8e8e8"/>
<circle cx="634.8000000000001" cy="345.59999999999997" r="0.9" fill="#e8e8e8"/>
<circle cx="631.6" cy="348.8" r="0.9" fill="#e8e8e8"/>
<circle cx="634.8000000000001" cy="348.8" r="0.9" fill="#e8e8e8"/>
<line x1="626.6" y1="347.2" x2="639.8000000000001" y2="347.2" stroke="#231f20" stroke-width="1.3"/>
<line x1="633.2" y1="340.59999999999997" x2="633.2" y2="353.8" stroke="#231f20" stroke-width="1.3"/>
<circle cx="707" cy="304.9" r="4.5" fill="#7a7a7c" stroke="#231f20" stroke-width="2.8"/>
<circle cx="705.4" cy="303.29999999999995" r="0.9" fill="#e8e8e8"/>
<circle cx="708.6" cy="303.29999999999995" r="0.9" fill="#e8e8e8"/>
<circle cx="705.4" cy="306.5" r="0.9" fill="#e8e8e8"/>
<circle cx="708.6" cy="306.5" r="0.9" fill="#e8e8e8"/>
<line x1="700.4" y1="304.9" x2="713.6" y2="304.9" stroke="#231f20" stroke-width="1.3"/>
<line x1="707" y1="298.29999999999995" x2="707" y2="311.5" stroke="#231f20" stroke-width="1.3"/>
<circle cx="680.4" cy="325.6" r="4.5" fill="#7a7a7c" stroke="#231f20" stroke-width="2.8"/>
<circle cx="678.8" cy="324.0" r="0.9" fill="#e8e8e8"/>
<circle cx="682.0" cy="324.0" r="0.9" fill="#e8e8e8"/>
<circle cx="678.8" cy="327.20000000000005" r="0.9" fill="#e8e8e8"/>
<circle cx="682.0" cy="327.20000000000005" r="0.9" fill="#e8e8e8"/>
<line x1="673.8" y1="325.6" x2="687.0" y2="325.6" stroke="#231f20" stroke-width="1.3"/>
<line x1="680.4" y1="319.0" x2="680.4" y2="332.20000000000005" stroke="#231f20" stroke-width="1.3"/>
<circle cx="704.8" cy="325.6" r="4.5" fill="#7a7a7c" stroke="#231f20" stroke-width="2.8"/>
<circle cx="703.1999999999999" cy="324.0" r="0.9" fill="#e8e8e8"/>
<circle cx="706.4" cy="324.0" r="0.9" fill="#e8e8e8"/>
<circle cx="703.1999999999999" cy="327.20000000000005" r="0.9" fill="#e8e8e8"/>
<circle cx="706.4" cy="327.20000000000005" r="0.9" fill="#e8e8e8"/>
<line x1="698.1999999999999" y1="325.6" x2="711.4" y2="325.6" stroke="#231f20" stroke-width="1.3"/>
<line x1="704.8" y1="319.0" x2="704.8" y2="332.20000000000005" stroke="#231f20" stroke-width="1.3"/>
<circle cx="614.6" cy="392.8" r="4.5" fill="#7a7a7c" stroke="#231f20" stroke-width="2.8"/>
<circle cx="613.0" cy="391.2" r="0.9" fill="#e8e8e8"/>
<circle cx="616.2" cy="391.2" r="0.9" fill="#e8e8e8"/>
<circle cx="613.0" cy="394.40000000000003" r="0.9" fill="#e8e8e8"/>
<circle cx="616.2" cy="394.40000000000003" r="0.9" fill="#e8e8e8"/>
<line x1="608.0" y1="392.8" x2="621.2" y2="392.8" stroke="#231f20" stroke-width="1.3"/>
<line x1="614.6" y1="386.2" x2="614.6" y2="399.40000000000003" stroke="#231f20" stroke-width="1.3"/>
<circle cx="631.5" cy="392.8" r="4.5" fill="#7a7a7c" stroke="#231f20" stroke-width="2.8"/>
<circle cx="629.9" cy="391.2" r="0.9" fill="#e8e8e8"/>
<circle cx="633.1" cy="391.2" r="0.9" fill="#e8e8e8"/>
<circle cx="629.9" cy="394.40000000000003" r="0.9" fill="#e8e8e8"/>
<circle cx="633.1" cy="394.40000000000003" r="0.9" fill="#e8e8e8"/>
<line x1="624.9" y1="392.8" x2="638.1" y2="392.8" stroke="#231f20" stroke-width="1.3"/>
<line x1="631.5" y1="386.2" x2="631.5" y2="399.40000000000003" stroke="#231f20" stroke-width="1.3"/>
<circle cx="648.4" cy="392.8" r="4.5" fill="#7a7a7c" stroke="#231f20" stroke-width="2.8"/>
<circle cx="646.8" cy="391.2" r="0.9" fill="#e8e8e8"/>
<circle cx="650.0" cy="391.2" r="0.9" fill="#e8e8e8"/>
<circle cx="646.8" cy="394.40000000000003" r="0.9" fill="#e8e8e8"/>
<circle cx="650.0" cy="394.40000000000003" r="0.9" fill="#e8e8e8"/>
<line x1="641.8" y1="392.8" x2="655.0" y2="392.8" stroke="#231f20" stroke-width="1.3"/>
<line x1="648.4" y1="386.2" x2="648.4" y2="399.40000000000003" stroke="#231f20" stroke-width="1.3"/>
<circle cx="676.3" cy="389.1" r="4.5" fill="#7a7a7c" stroke="#231f20" stroke-width="2.8"/>
<circle cx="674.6999999999999" cy="387.5" r="0.9" fill="#e8e8e8"/>
<circle cx="677.9" cy="387.5" r="0.9" fill="#e8e8e8"/>
<circle cx="674.6999999999999" cy="390.70000000000005" r="0.9" fill="#e8e8e8"/>
<circle cx="677.9" cy="390.70000000000005" r="0.9" fill="#e8e8e8"/>
<line x1="669.6999999999999" y1="389.1" x2="682.9" y2="389.1" stroke="#231f20" stroke-width="1.3"/>
<line x1="676.3" y1="382.5" x2="676.3" y2="395.70000000000005" stroke="#231f20" stroke-width="1.3"/>
<circle cx="694.9" cy="391.1" r="4.5" fill="#7a7a7c" stroke="#231f20" stroke-width="2.8"/>
<circle cx="693.3" cy="389.5" r="0.9" fill="#e8e8e8"/>
<circle cx="696.5" cy="389.5" r="0.9" fill="#e8e8e8"/>
<circle cx="693.3" cy="392.70000000000005" r="0.9" fill="#e8e8e8"/>
<circle cx="696.5" cy="392.70000000000005" r="0.9" fill="#e8e8e8"/>
<line x1="688.3" y1="391.1" x2="701.5" y2="391.1" stroke="#231f20" stroke-width="1.3"/>
<line x1="694.9" y1="384.5" x2="694.9" y2="397.70000000000005" stroke="#231f20" stroke-width="1.3"/>
<line x1="543" y1="395" x2="543" y2="488.4" stroke="#231f20" stroke-width="1.4"/>
<line x1="602.3" y1="400" x2="602.3" y2="449.6" stroke="#231f20" stroke-width="1.4"/>
<line x1="723.6" y1="400" x2="723.6" y2="488" stroke="#231f20" stroke-width="1.4"/>
<line x1="603" y1="442.2" x2="637" y2="442.2" stroke="#231f20" stroke-width="1.5"/>
<polygon points="604.5,442.2 622.5,437.4 622.5,446.9" fill="#231f20"/>
<line x1="693.4" y1="442.2" x2="710" y2="442.2" stroke="#231f20" stroke-width="1.5"/>
<polygon points="723.6,442.2 705.6,437.4 705.6,446.9" fill="#231f20"/>
<text x="639.8" y="453.6" font-size="29.5" textLength="46.90000000000009" lengthAdjust="spacingAndGlyphs">17,2</text>
<line x1="550" y1="483.6" x2="603.7" y2="483.6" stroke="#231f20" stroke-width="1.5"/>
<polygon points="543.0,483.6 561.0,478.9 561.0,488.4" fill="#231f20"/>
<line x1="670.6" y1="483.6" x2="710" y2="483.6" stroke="#231f20" stroke-width="1.5"/>
<polygon points="723.6,483.6 705.6,478.9 705.6,488.4" fill="#231f20"/>
<text x="614.4" y="493.8" font-size="29.5" textLength="48.200000000000045" lengthAdjust="spacingAndGlyphs">25,6</text>
<line x1="716.5" y1="294.7" x2="773" y2="294.7" stroke="#231f20" stroke-width="1.4"/>
<line x1="704" y1="400.6" x2="773" y2="400.6" stroke="#231f20" stroke-width="1.4"/>
<line x1="756.6" y1="305" x2="756.6" y2="326.6" stroke="#231f20" stroke-width="1.5"/>
<polygon points="756.6,294.7 751.9,312.7 761.4,312.7" fill="#231f20"/>
<line x1="756.6" y1="370" x2="756.6" y2="390" stroke="#231f20" stroke-width="1.5"/>
<polygon points="756.6,400.6 751.9,382.6 761.4,382.6" fill="#231f20"/>
<text transform="translate(767.5,362) rotate(-90)" x="0" y="0" font-size="29.5" textLength="25.5" lengthAdjust="spacingAndGlyphs">15</text>
<rect x="74.5" y="666" width="42" height="49.7" fill="#c6c7c9" stroke="#231f20" stroke-width="2.4" />
<rect x="434" y="666.2" width="42" height="49.2" fill="#c6c7c9" stroke="#231f20" stroke-width="2.4" />
<defs><clipPath id="cpBL"><path d="M116.4,623.1 L278,623.1 C277,660 279,700 276,743.5 L276,750 L116.4,750 Z"/></clipPath><clipPath id="cpBR"><path d="M293,623.1 L433.6,623.1 L433.6,750 L291,750 L291,743.5 C290,700 292,660 293,623.1 Z"/></clipPath></defs>
<path d="M116.4,623.1 L278,623.1 C277,660 279,700 276,743.5 L116.4,743.5 Z" fill="#c6c7c9" stroke="#231f20" stroke-width="0" />
<path d="M293,623.1 L433.6,623.1 L433.6,743.5 L291,743.5 C290,700 292,660 293,623.1 Z" fill="#c6c7c9" stroke="#231f20" stroke-width="0" />
<path d="M126.9,564.5 L278.6,564.5 C277,585 281,605 278,623.1 L126.9,623.1 Z" fill="#c6c7c9" stroke="#231f20" stroke-width="0" />
<path d="M293,564.5 L423.9,564.5 L423.9,623.1 L293,623.1 C290,605 292,585 293,564.5 Z" fill="#c6c7c9" stroke="#231f20" stroke-width="0" />
<rect x="388.6" y="564.5" width="35.3" height="179.0" fill="#bee0f0" stroke="none" stroke-width="0" />
<rect x="116.4" y="691.4" width="161.1" height="33.7" fill="#4a4a4c" stroke="none" stroke-width="0" />
<line x1="116.4" y1="696" x2="277.5" y2="696" stroke="#68686a" stroke-width="0.9"/>
<line x1="116.4" y1="700.5" x2="277.5" y2="700.5" stroke="#68686a" stroke-width="0.9"/>
<line x1="116.4" y1="705" x2="277.5" y2="705" stroke="#68686a" stroke-width="0.9"/>
<line x1="116.4" y1="709.5" x2="277.5" y2="709.5" stroke="#68686a" stroke-width="0.9"/>
<line x1="116.4" y1="714" x2="277.5" y2="714" stroke="#68686a" stroke-width="0.9"/>
<line x1="116.4" y1="718.5" x2="277.5" y2="718.5" stroke="#68686a" stroke-width="0.9"/>
<line x1="116.4" y1="691.4" x2="277.5" y2="691.4" stroke="#231f20" stroke-width="1.8"/>
<line x1="116.4" y1="725.1" x2="277.5" y2="725.1" stroke="#231f20" stroke-width="1.8"/>
<line x1="116.4" y1="734.3" x2="277.5" y2="734.3" stroke="#231f20" stroke-width="1.5"/>
<line x1="116.4" y1="743.5" x2="277.5" y2="743.5" stroke="#231f20" stroke-width="2.4"/>
<rect x="291.5" y="691.4" width="142.10000000000002" height="33.7" fill="#4a4a4c" stroke="none" stroke-width="0" />
<line x1="291.5" y1="696" x2="433.6" y2="696" stroke="#68686a" stroke-width="0.9"/>
<line x1="291.5" y1="700.5" x2="433.6" y2="700.5" stroke="#68686a" stroke-width="0.9"/>
<line x1="291.5" y1="705" x2="433.6" y2="705" stroke="#68686a" stroke-width="0.9"/>
<line x1="291.5" y1="709.5" x2="433.6" y2="709.5" stroke="#68686a" stroke-width="0.9"/>
<line x1="291.5" y1="714" x2="433.6" y2="714" stroke="#68686a" stroke-width="0.9"/>
<line x1="291.5" y1="718.5" x2="433.6" y2="718.5" stroke="#68686a" stroke-width="0.9"/>
<line x1="291.5" y1="691.4" x2="433.6" y2="691.4" stroke="#231f20" stroke-width="1.8"/>
<line x1="291.5" y1="725.1" x2="433.6" y2="725.1" stroke="#231f20" stroke-width="1.8"/>
<line x1="291.5" y1="734.3" x2="433.6" y2="734.3" stroke="#231f20" stroke-width="1.5"/>
<line x1="291.5" y1="743.5" x2="433.6" y2="743.5" stroke="#231f20" stroke-width="2.4"/>
<g clip-path="url(#cpBL)">
<rect x="126.9" y="735.5" width="52.5" height="7.2" fill="#58585a" stroke="none" stroke-width="0" />
<line x1="126.9" y1="734.6" x2="179.4" y2="734.6" stroke="#231f20" stroke-width="1.8"/>
<rect x="132.3" y="737" width="3.4" height="5.2" fill="#ececec" stroke="none" stroke-width="0" />
<rect x="139.5" y="736.8" width="9.2" height="5.6" fill="#d8d8da" stroke="#231f20" stroke-width="1" />
<rect x="152.5" y="737" width="3" height="5.2" fill="#e4e4e4" stroke="none" stroke-width="0" />
<rect x="158.70000000000002" y="738.4" width="1.6" height="2.2" fill="#e4e4e4" stroke="none" stroke-width="0" />
<rect x="162.5" y="736.3" width="14.5" height="1.1" fill="#9a9a9c" stroke="none" stroke-width="0" />
<rect x="162.5" y="739.3" width="14.5" height="2" fill="#f4f4f4" stroke="none" stroke-width="0" />
<rect x="131.4" y="742.5" width="26" height="2" fill="#231f20" stroke="none" stroke-width="0" />
</g>
<g clip-path="url(#cpBL)">
<rect x="179.4" y="735.5" width="52.400000000000006" height="7.2" fill="#58585a" stroke="none" stroke-width="0" />
<line x1="179.4" y1="734.6" x2="231.8" y2="734.6" stroke="#231f20" stroke-width="1.8"/>
<rect x="184.8" y="737" width="3.4" height="5.2" fill="#ececec" stroke="none" stroke-width="0" />
<rect x="192.0" y="736.8" width="9.2" height="5.6" fill="#d8d8da" stroke="#231f20" stroke-width="1" />
<rect x="205.0" y="737" width="3" height="5.2" fill="#e4e4e4" stroke="none" stroke-width="0" />
<rect x="211.20000000000002" y="738.4" width="1.6" height="2.2" fill="#e4e4e4" stroke="none" stroke-width="0" />
<rect x="215.0" y="736.3" width="14.400000000000006" height="1.1" fill="#9a9a9c" stroke="none" stroke-width="0" />
<rect x="215.0" y="739.3" width="14.400000000000006" height="2" fill="#f4f4f4" stroke="none" stroke-width="0" />
<rect x="183.9" y="742.5" width="26" height="2" fill="#231f20" stroke="none" stroke-width="0" />
</g>
<g clip-path="url(#cpBL)">
<rect x="231.8" y="735.5" width="45.19999999999999" height="7.2" fill="#58585a" stroke="none" stroke-width="0" />
<line x1="231.8" y1="734.6" x2="277" y2="734.6" stroke="#231f20" stroke-width="1.8"/>
<rect x="237.20000000000002" y="737" width="3.4" height="5.2" fill="#ececec" stroke="none" stroke-width="0" />
<rect x="244.4" y="736.8" width="9.2" height="5.6" fill="#d8d8da" stroke="#231f20" stroke-width="1" />
<rect x="257.40000000000003" y="737" width="3" height="5.2" fill="#e4e4e4" stroke="none" stroke-width="0" />
<rect x="263.6" y="738.4" width="1.6" height="2.2" fill="#e4e4e4" stroke="none" stroke-width="0" />
<rect x="267.40000000000003" y="736.3" width="7.199999999999989" height="1.1" fill="#9a9a9c" stroke="none" stroke-width="0" />
<rect x="267.40000000000003" y="739.3" width="7.199999999999989" height="2" fill="#f4f4f4" stroke="none" stroke-width="0" />
<rect x="236.3" y="742.5" width="26" height="2" fill="#231f20" stroke="none" stroke-width="0" />
</g>
<g clip-path="url(#cpBR)">
<rect x="293" y="735.5" width="43.5" height="7.2" fill="#58585a" stroke="none" stroke-width="0" />
<line x1="293" y1="734.6" x2="336.5" y2="734.6" stroke="#231f20" stroke-width="1.8"/>
<rect x="298.4" y="737" width="3.4" height="5.2" fill="#ececec" stroke="none" stroke-width="0" />
<rect x="305.6" y="736.8" width="9.2" height="5.6" fill="#d8d8da" stroke="#231f20" stroke-width="1" />
<rect x="318.6" y="737" width="3" height="5.2" fill="#e4e4e4" stroke="none" stroke-width="0" />
<rect x="324.8" y="738.4" width="1.6" height="2.2" fill="#e4e4e4" stroke="none" stroke-width="0" />
<rect x="328.6" y="736.3" width="5.5" height="1.1" fill="#9a9a9c" stroke="none" stroke-width="0" />
<rect x="328.6" y="739.3" width="5.5" height="2" fill="#f4f4f4" stroke="none" stroke-width="0" />
<rect x="297.5" y="742.5" width="26" height="2" fill="#231f20" stroke="none" stroke-width="0" />
</g>
<g clip-path="url(#cpBR)">
<rect x="336.5" y="735.5" width="52.10000000000002" height="7.2" fill="#58585a" stroke="none" stroke-width="0" />
<line x1="336.5" y1="734.6" x2="388.6" y2="734.6" stroke="#231f20" stroke-width="1.8"/>
<rect x="341.9" y="737" width="3.4" height="5.2" fill="#ececec" stroke="none" stroke-width="0" />
<rect x="349.1" y="736.8" width="9.2" height="5.6" fill="#d8d8da" stroke="#231f20" stroke-width="1" />
<rect x="362.1" y="737" width="3" height="5.2" fill="#e4e4e4" stroke="none" stroke-width="0" />
<rect x="368.3" y="738.4" width="1.6" height="2.2" fill="#e4e4e4" stroke="none" stroke-width="0" />
<rect x="372.1" y="736.3" width="14.100000000000023" height="1.1" fill="#9a9a9c" stroke="none" stroke-width="0" />
<rect x="372.1" y="739.3" width="14.100000000000023" height="2" fill="#f4f4f4" stroke="none" stroke-width="0" />
<rect x="341.0" y="742.5" width="26" height="2" fill="#231f20" stroke="none" stroke-width="0" />
</g>
<g clip-path="url(#cpBR)">
<rect x="388.6" y="735.5" width="35.299999999999955" height="7.2" fill="#58585a" stroke="none" stroke-width="0" />
<line x1="388.6" y1="734.6" x2="423.9" y2="734.6" stroke="#231f20" stroke-width="1.8"/>
<rect x="394.0" y="737" width="3.4" height="5.2" fill="#ececec" stroke="none" stroke-width="0" />
<rect x="401.20000000000005" y="736.8" width="9.2" height="5.6" fill="#d8d8da" stroke="#231f20" stroke-width="1" />
<rect x="414.20000000000005" y="737" width="3" height="5.2" fill="#e4e4e4" stroke="none" stroke-width="0" />
<rect x="420.40000000000003" y="738.4" width="1.6" height="2.2" fill="#e4e4e4" stroke="none" stroke-width="0" />
<rect x="424.20000000000005" y="736.3" width="1" height="1.1" fill="#9a9a9c" stroke="none" stroke-width="0" />
<rect x="424.20000000000005" y="739.3" width="1" height="2" fill="#f4f4f4" stroke="none" stroke-width="0" />
<rect x="393.1" y="742.5" width="26" height="2" fill="#231f20" stroke="none" stroke-width="0" />
</g>
<line x1="116.4" y1="636.2" x2="278" y2="636.2" stroke="#231f20" stroke-width="1.5"/>
<line x1="292" y1="636.2" x2="433.6" y2="636.2" stroke="#231f20" stroke-width="1.5"/>
<line x1="116.4" y1="648.7" x2="278" y2="648.7" stroke="#231f20" stroke-width="1.5"/>
<line x1="292" y1="648.7" x2="433.6" y2="648.7" stroke="#231f20" stroke-width="1.5"/>
<line x1="116.4" y1="623.1" x2="278" y2="623.1" stroke="#231f20" stroke-width="2.2"/>
<line x1="293" y1="623.1" x2="433.6" y2="623.1" stroke="#231f20" stroke-width="2.2"/>
<line x1="116.4" y1="625.6" x2="278" y2="625.6" stroke="#231f20" stroke-width="1.4"/>
<line x1="292.5" y1="625.6" x2="433.6" y2="625.6" stroke="#231f20" stroke-width="1.4"/>
<line x1="168.20000000000002" y1="564.5" x2="168.20000000000002" y2="623.1" stroke="#231f20" stroke-width="1.4"/>
<line x1="168.20000000000002" y1="591" x2="179.4" y2="591" stroke="#231f20" stroke-width="1.2"/>
<line x1="168.20000000000002" y1="596" x2="179.4" y2="596" stroke="#231f20" stroke-width="1.2"/>
<line x1="168.20000000000002" y1="620" x2="179.4" y2="620" stroke="#231f20" stroke-width="1.2"/>
<rect x="168.9" y="621" width="9.799999999999988" height="1.5" fill="#e8e8ea" stroke="none" stroke-width="0" />
<line x1="221.8" y1="564.5" x2="218.3" y2="574.6" stroke="#231f20" stroke-width="1.4"/>
<line x1="218.3" y1="574.6" x2="218.3" y2="623.1" stroke="#231f20" stroke-width="1.4"/>
<line x1="218.3" y1="574.6" x2="231.8" y2="574.6" stroke="#231f20" stroke-width="1.4"/>
<line x1="274.5" y1="564.5" x2="271" y2="574.6" stroke="#231f20" stroke-width="1.4"/>
<line x1="271" y1="574.6" x2="271" y2="623.1" stroke="#231f20" stroke-width="1.4"/>
<line x1="271" y1="574.6" x2="278" y2="574.6" stroke="#231f20" stroke-width="1.4"/>
<line x1="326.5" y1="564.5" x2="323.0" y2="574.6" stroke="#231f20" stroke-width="1.4"/>
<line x1="323.0" y1="574.6" x2="323.0" y2="623.1" stroke="#231f20" stroke-width="1.4"/>
<line x1="323.0" y1="574.6" x2="336.5" y2="574.6" stroke="#231f20" stroke-width="1.4"/>
<line x1="377.40000000000003" y1="564.5" x2="377.40000000000003" y2="623.1" stroke="#231f20" stroke-width="1.4"/>
<line x1="377.40000000000003" y1="591" x2="388.6" y2="591" stroke="#231f20" stroke-width="1.2"/>
<line x1="377.40000000000003" y1="596" x2="388.6" y2="596" stroke="#231f20" stroke-width="1.2"/>
<line x1="377.40000000000003" y1="620" x2="388.6" y2="620" stroke="#231f20" stroke-width="1.2"/>
<rect x="378.1" y="621" width="9.799999999999988" height="1.5" fill="#e8e8ea" stroke="none" stroke-width="0" />
<line x1="413.9" y1="564.5" x2="410.4" y2="574.6" stroke="#231f20" stroke-width="1.4"/>
<line x1="410.4" y1="574.6" x2="410.4" y2="623.1" stroke="#231f20" stroke-width="1.4"/>
<line x1="410.4" y1="574.6" x2="423.9" y2="574.6" stroke="#231f20" stroke-width="1.4"/>
<circle cx="144.8" cy="682.5" r="6.6" fill="#f6c89a" stroke="#231f20" stroke-width="3"/>
<line x1="135.2" y1="682.5" x2="154.4" y2="682.5" stroke="#2a1a10" stroke-width="1.6"/>
<line x1="144.8" y1="673" x2="144.8" y2="691" stroke="#2a1a10" stroke-width="1.6"/>
<circle cx="196.8" cy="682.5" r="6.6" fill="#f6c89a" stroke="#231f20" stroke-width="3"/>
<line x1="187.2" y1="682.5" x2="206.4" y2="682.5" stroke="#2a1a10" stroke-width="1.6"/>
<line x1="196.8" y1="673" x2="196.8" y2="691" stroke="#2a1a10" stroke-width="1.6"/>
<circle cx="248.8" cy="682.5" r="6.6" fill="#f6c89a" stroke="#231f20" stroke-width="3"/>
<line x1="239.2" y1="682.5" x2="258.4" y2="682.5" stroke="#2a1a10" stroke-width="1.6"/>
<line x1="248.8" y1="673" x2="248.8" y2="691" stroke="#2a1a10" stroke-width="1.6"/>
<circle cx="301.8" cy="682.5" r="6.6" fill="#f6c89a" stroke="#231f20" stroke-width="3"/>
<line x1="292.2" y1="682.5" x2="311.4" y2="682.5" stroke="#2a1a10" stroke-width="1.6"/>
<line x1="301.8" y1="673" x2="301.8" y2="691" stroke="#2a1a10" stroke-width="1.6"/>
<circle cx="354.3" cy="682.5" r="6.6" fill="#f6c89a" stroke="#231f20" stroke-width="3"/>
<line x1="344.7" y1="682.5" x2="363.9" y2="682.5" stroke="#2a1a10" stroke-width="1.6"/>
<line x1="354.3" y1="673" x2="354.3" y2="691" stroke="#2a1a10" stroke-width="1.6"/>
<circle cx="406.3" cy="682.5" r="6.6" fill="#f6c89a" stroke="#231f20" stroke-width="3"/>
<line x1="396.7" y1="682.5" x2="415.9" y2="682.5" stroke="#2a1a10" stroke-width="1.6"/>
<line x1="406.3" y1="673" x2="406.3" y2="691" stroke="#2a1a10" stroke-width="1.6"/>
<line x1="126.9" y1="564.5" x2="126.9" y2="743.5" stroke="#231f20" stroke-width="2.6"/>
<line x1="179.4" y1="564.5" x2="179.4" y2="743.5" stroke="#231f20" stroke-width="2.6"/>
<line x1="231.8" y1="564.5" x2="231.8" y2="743.5" stroke="#231f20" stroke-width="2.6"/>
<line x1="336.5" y1="564.5" x2="336.5" y2="743.5" stroke="#231f20" stroke-width="2.6"/>
<line x1="388.6" y1="564.5" x2="388.6" y2="743.5" stroke="#231f20" stroke-width="2.6"/>
<line x1="423.9" y1="564.5" x2="423.9" y2="743.5" stroke="#231f20" stroke-width="2.6"/>
<path d="M278.6,564.5 L126.9,564.5 L126.9,623.1 L116.4,623.1 L116.4,743.5 L276,743.5" fill="none" stroke="#231f20" stroke-width="2.6" />
<path d="M278.6,564.5 C277,585 281,605 278,623.1 C277,660 279,700 276,743.5" fill="none" stroke="#231f20" stroke-width="1.6" />
<path d="M291,743.5 L433.6,743.5 L433.6,623.1 L423.9,623.1 L423.9,564.5 L293,564.5" fill="none" stroke="#231f20" stroke-width="2.6" />
<path d="M293,564.5 C290,585 292,605 293,623.1 C292,660 290,700 291,743.5" fill="none" stroke="#231f20" stroke-width="1.6" />
<path d="M116,672.9 L74.5,672.9" fill="none" stroke="#231f20" stroke-width="1.5" />
<path d="M74.5,708.6 L112,708.6 Q116,708.6 116,704.6" fill="none" stroke="#231f20" stroke-width="1.4" />
<line x1="74.5" y1="682" x2="86.4" y2="682" stroke="#231f20" stroke-width="1.4"/>
<line x1="74.5" y1="700" x2="86.4" y2="700" stroke="#231f20" stroke-width="1.4"/>
<path d="M76,708.6 L112,708.6 Q116,708.6 116,704" fill="none" stroke="#231f20" stroke-width="1.3" />
<path d="M86.4,682 L96,682 Q104.8,682 104.8,691 Q104.8,700 96,700 L86.4,700 Z" fill="#fff" stroke="#231f20" stroke-width="2.8" />
<line x1="92.5" y1="691.4" x2="99.5" y2="691.4" stroke="#231f20" stroke-width="1.8"/>
<line x1="96" y1="687.9" x2="96" y2="694.9" stroke="#231f20" stroke-width="1.8"/>
<path d="M473,673.3 L440,673.3 Q436,673.3 436,677.3 L436,704.6 Q436,708.6 440,708.6 L473,708.6" fill="none" stroke="#231f20" stroke-width="1.5" />
<path d="M463.4,682.4 L454,682.4 Q445,682.4 445,691.3 Q445,700.2 454,700.2 L463.4,700.2 Z" fill="#fff" stroke="#231f20" stroke-width="2.8" />
<line x1="451" y1="691.3" x2="458" y2="691.3" stroke="#231f20" stroke-width="1.8"/>
<line x1="454.5" y1="687.8" x2="454.5" y2="694.8" stroke="#231f20" stroke-width="1.8"/>
<line x1="86.1" y1="583" x2="86.1" y2="682" stroke="#231f20" stroke-width="1.3"/>
<line x1="105.4" y1="583" x2="105.4" y2="688" stroke="#231f20" stroke-width="1.3"/>
<line x1="26.8" y1="608.6" x2="70" y2="608.6" stroke="#231f20" stroke-width="1.5"/>
<polygon points="86.1,608.6 68.1,603.9 68.1,613.4" fill="#231f20"/>
<line x1="120" y1="608.6" x2="125.4" y2="608.6" stroke="#231f20" stroke-width="1.5"/>
<polygon points="105.4,608.6 123.4,603.9 123.4,613.4" fill="#231f20"/>
<text x="28.9" y="602" font-size="29.5" textLength="32.5" lengthAdjust="spacingAndGlyphs">2,6</text>
<line x1="36.4" y1="641" x2="36.4" y2="660" stroke="#231f20" stroke-width="1.5"/>
<polygon points="36.4,672.9 31.6,654.9 41.1,654.9" fill="#231f20"/>
<line x1="5.5" y1="673.1" x2="74.5" y2="673.1" stroke="#231f20" stroke-width="1.4"/>
<line x1="58" y1="684" x2="58" y2="700" stroke="#231f20" stroke-width="1.5"/>
<polygon points="58.0,715.5 53.2,697.5 62.8,697.5" fill="#231f20"/>
<line x1="44.2" y1="715.5" x2="74.5" y2="715.5" stroke="#231f20" stroke-width="1.4"/>
<line x1="5.5" y1="709.3" x2="48.2" y2="709.3" stroke="#231f20" stroke-width="1.4"/>
<line x1="62.6" y1="709.3" x2="74.5" y2="709.3" stroke="#231f20" stroke-width="1.4"/>
<line x1="36.2" y1="720" x2="36.2" y2="769.2" stroke="#231f20" stroke-width="1.5"/>
<polygon points="36.2,709.3 31.5,727.3 41.0,727.3" fill="#231f20"/>
<line x1="44.8" y1="743" x2="116.4" y2="743" stroke="#231f20" stroke-width="1.4"/>
<line x1="58" y1="755" x2="58" y2="774.4" stroke="#231f20" stroke-width="1.5"/>
<polygon points="58.0,743.0 53.2,761.0 62.8,761.0" fill="#231f20"/>
<text transform="translate(30.2,767) rotate(-90)" x="0" y="0" font-size="29.5" textLength="28.5" lengthAdjust="spacingAndGlyphs">5,1</text>
<text transform="translate(63.2,795.8) rotate(-90)" x="0" y="0" font-size="29.5" textLength="12.399999999999977" lengthAdjust="spacingAndGlyphs">4</text>
<line x1="476" y1="666.2" x2="485" y2="666.2" stroke="#231f20" stroke-width="1.4"/>
<line x1="504.6" y1="666.2" x2="543.6" y2="666.2" stroke="#231f20" stroke-width="1.4"/>
<line x1="476" y1="715.4" x2="485" y2="715.4" stroke="#231f20" stroke-width="1.4"/>
<line x1="504.6" y1="715.4" x2="543.6" y2="715.4" stroke="#231f20" stroke-width="1.4"/>
<line x1="463.4" y1="682.4" x2="502" y2="682.4" stroke="#231f20" stroke-width="1.4"/>
<line x1="463.4" y1="699.8" x2="502" y2="699.8" stroke="#231f20" stroke-width="1.4"/>
<line x1="463.4" y1="691.1" x2="577.3" y2="691.1" stroke="#231f20" stroke-width="1.4"/>
<line x1="434" y1="743.6" x2="525.2" y2="743.6" stroke="#231f20" stroke-width="1.4"/>
<line x1="539.3" y1="743.6" x2="577.3" y2="743.6" stroke="#231f20" stroke-width="1.4"/>
<line x1="496.4" y1="621.7" x2="496.4" y2="670" stroke="#231f20" stroke-width="1.5"/>
<polygon points="496.4,682.4 491.6,664.4 501.1,664.4" fill="#231f20"/>
<line x1="496.4" y1="710" x2="496.4" y2="732.3" stroke="#231f20" stroke-width="1.5"/>
<polygon points="496.4,699.8 491.6,717.8 501.1,717.8" fill="#231f20"/>
<line x1="531" y1="605.4" x2="531" y2="655" stroke="#231f20" stroke-width="1.5"/>
<polygon points="531.0,666.2 526.2,648.2 535.8,648.2" fill="#231f20"/>
<line x1="531" y1="725" x2="531" y2="748.6" stroke="#231f20" stroke-width="1.5"/>
<polygon points="531.0,715.4 526.2,733.4 535.8,733.4" fill="#231f20"/>
<line x1="567" y1="658.6" x2="567" y2="680" stroke="#231f20" stroke-width="1.5"/>
<polygon points="567.0,691.1 562.2,673.1 571.8,673.1" fill="#231f20"/>
<line x1="567" y1="755" x2="567" y2="772" stroke="#231f20" stroke-width="1.5"/>
<polygon points="567.0,743.6 562.2,761.6 571.8,761.6" fill="#231f20"/>
<text transform="translate(488.2,653.9) rotate(-90)" x="0" y="0" font-size="29.5" textLength="32.299999999999955" lengthAdjust="spacingAndGlyphs">2,6</text>
<text transform="translate(526.3,618.4) rotate(-90)" x="0" y="0" font-size="29.5" textLength="11.899999999999977" lengthAdjust="spacingAndGlyphs">7</text>
<text transform="translate(576.5,733) rotate(-90)" x="0" y="0" font-size="29.5" textLength="31.200000000000045" lengthAdjust="spacingAndGlyphs">7,5</text>
<line x1="126.8" y1="743" x2="126.8" y2="810" stroke="#231f20" stroke-width="1.4"/>
<line x1="336.6" y1="743" x2="336.6" y2="791.4" stroke="#231f20" stroke-width="1.4"/>
<line x1="388.8" y1="743" x2="388.8" y2="791" stroke="#231f20" stroke-width="1.4"/>
<line x1="423.2" y1="743" x2="423.2" y2="810" stroke="#231f20" stroke-width="1.4"/>
<polygon points="336.6,786.0 354.6,781.2 354.6,790.8" fill="#231f20"/>
<polygon points="388.8,786.0 370.8,781.2 370.8,790.8" fill="#231f20"/>
<line x1="350" y1="786" x2="375" y2="786" stroke="#231f20" stroke-width="1.5"/>
<polygon points="388.8,786.0 402.8,781.2 402.8,790.8" fill="#231f20"/>
<polygon points="423.2,786.0 409.2,781.2 409.2,790.8" fill="#231f20"/>
<line x1="400" y1="786" x2="410" y2="786" stroke="#231f20" stroke-width="1.5"/>
<text x="347.3" y="772.7" font-size="29.5" textLength="31.30000000000001" lengthAdjust="spacingAndGlyphs">7,5</text>
<text x="401.8" y="772.7" font-size="29.5" textLength="11.599999999999966" lengthAdjust="spacingAndGlyphs">5</text>
<line x1="140" y1="801.5" x2="254.5" y2="801.5" stroke="#231f20" stroke-width="1.5"/>
<polygon points="126.8,801.5 144.8,796.8 144.8,806.2" fill="#231f20"/>
<line x1="300.2" y1="801.5" x2="410" y2="801.5" stroke="#231f20" stroke-width="1.5"/>
<polygon points="423.2,801.5 405.2,796.8 405.2,806.2" fill="#231f20"/>
<text x="272.2" y="812.7" font-size="29.5" textLength="10.400000000000034" lengthAdjust="spacingAndGlyphs">L</text>
</svg>
</body></html>
